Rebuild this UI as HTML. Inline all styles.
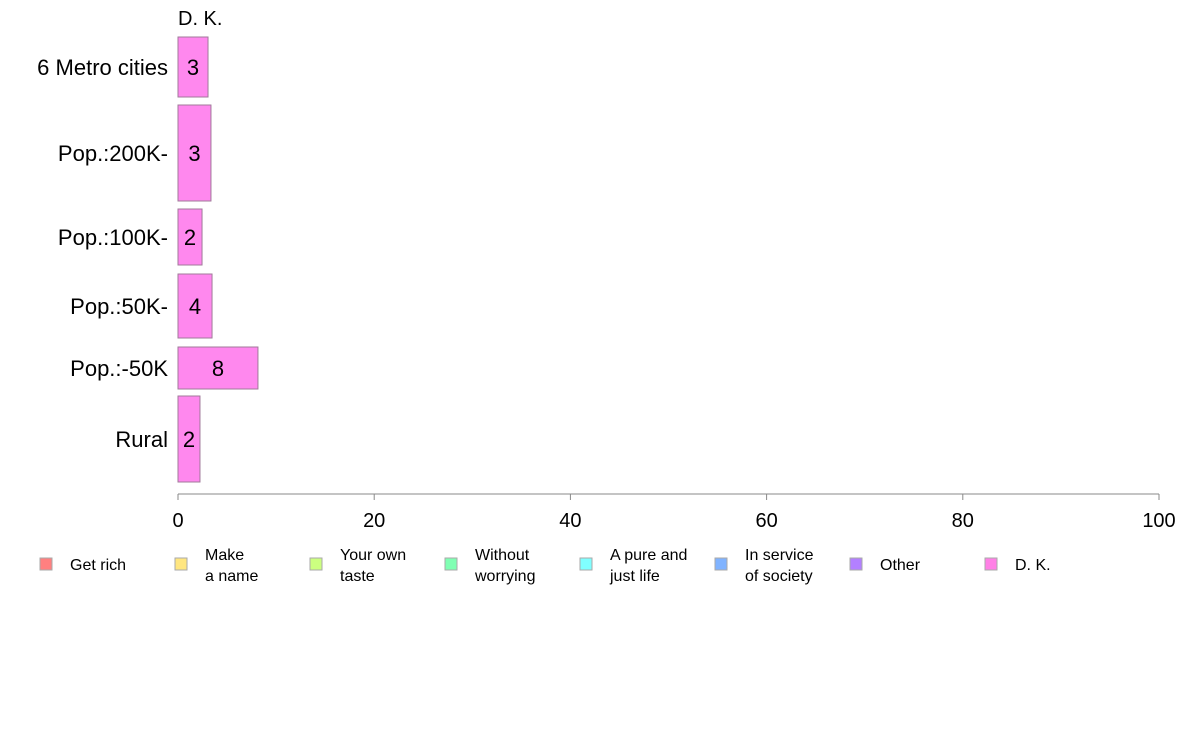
<!DOCTYPE html>
<html><head><meta charset="utf-8"><style>
body{margin:0;background:#fff;}
svg{font-family:"Liberation Sans",Arial,sans-serif;display:block}
</style></head><body>
<svg id="chart" width="1188" height="736" viewBox="0 0 1188 736" xmlns="http://www.w3.org/2000/svg">
<text x="178" y="25" font-size="20">D. K.</text>
<g id="bars"></g>
<g id="axis"></g>
<g id="legend"></g>
</svg>
<script>
const categories=["6 Metro cities","Pop.:200K-","Pop.:100K-","Pop.:50K-","Pop.:-50K","Rural"];
const values=[3.06,3.36,2.45,3.47,8.15,2.24];
const labels=["3","3","2","4","8","2"];
const rowTop=[37,105,209,274,347,396];
const rowBottom=[97,201,265,338,389,482];
const ticks=[0,20,40,60,80,100];
const legendNames=[["Get rich"],["Make","a name"],["Your own","taste"],["Without","worrying"],["A pure and","just life"],["In service","of society"],["Other"],["D. K."]];
const legendColors=["#ff8080","#ffe680","#ccff80","#80ffb3","#80ffff","#80b3ff","#b380ff","#ff80e6"];
const NS="http://www.w3.org/2000/svg";
const x0=178,x1=1159;
const xs=v=>x0+(x1-x0)*v/100;
function mk(tag,attrs,parent,text){const e=document.createElementNS(NS,tag);for(const k in attrs)e.setAttribute(k,attrs[k]);if(text!==undefined)e.textContent=text;parent.appendChild(e);return e;}
const bars=document.getElementById('bars');
categories.forEach((c,i)=>{
  const t=rowTop[i],b=rowBottom[i],mid=(t+b)/2;
  const r=mk('rect',{x:x0,y:t,width:xs(values[i])-x0,height:b-t,fill:'#ff88ee',stroke:'#a07a9a','stroke-width':1},bars);
  
  
  const l=mk('text',{x:(x0+xs(values[i]))/2,y:mid+8,'font-size':22,'text-anchor':'middle'},bars,labels[i]);
  
  
  const cl=mk('text',{x:168,y:mid+8,'font-size':22,'text-anchor':'end'},bars,c);
  
  
});
const ax=document.getElementById('axis');
const al=mk('line',{x1:x0,x2:x1,y1:494,y2:494,stroke:'#888','stroke-width':1},ax);


ticks.forEach(t=>{
  const tk=mk('line',{x1:xs(t),x2:xs(t),y1:494,y2:500,stroke:'#888'},ax);
  
  
  const tl=mk('text',{x:xs(t),y:527,'font-size':20,'text-anchor':'middle'},ax,String(t));
  
  
});
const lg=document.getElementById('legend');
legendNames.forEach((n,i)=>{
  const sx=40+135*i;
  const g=mk('g',{},lg);
  
  
  mk('rect',{x:sx,y:558,width:12,height:12,fill:legendColors[i],stroke:'#aaa'},g);
  if(n.length===1){mk('text',{x:sx+30,y:570,'font-size':16},g,n[0]);}
  else{mk('text',{x:sx+30,y:560,'font-size':16},g,n[0]);mk('text',{x:sx+30,y:581,'font-size':16},g,n[1]);}
});
</script>
</body></html>
